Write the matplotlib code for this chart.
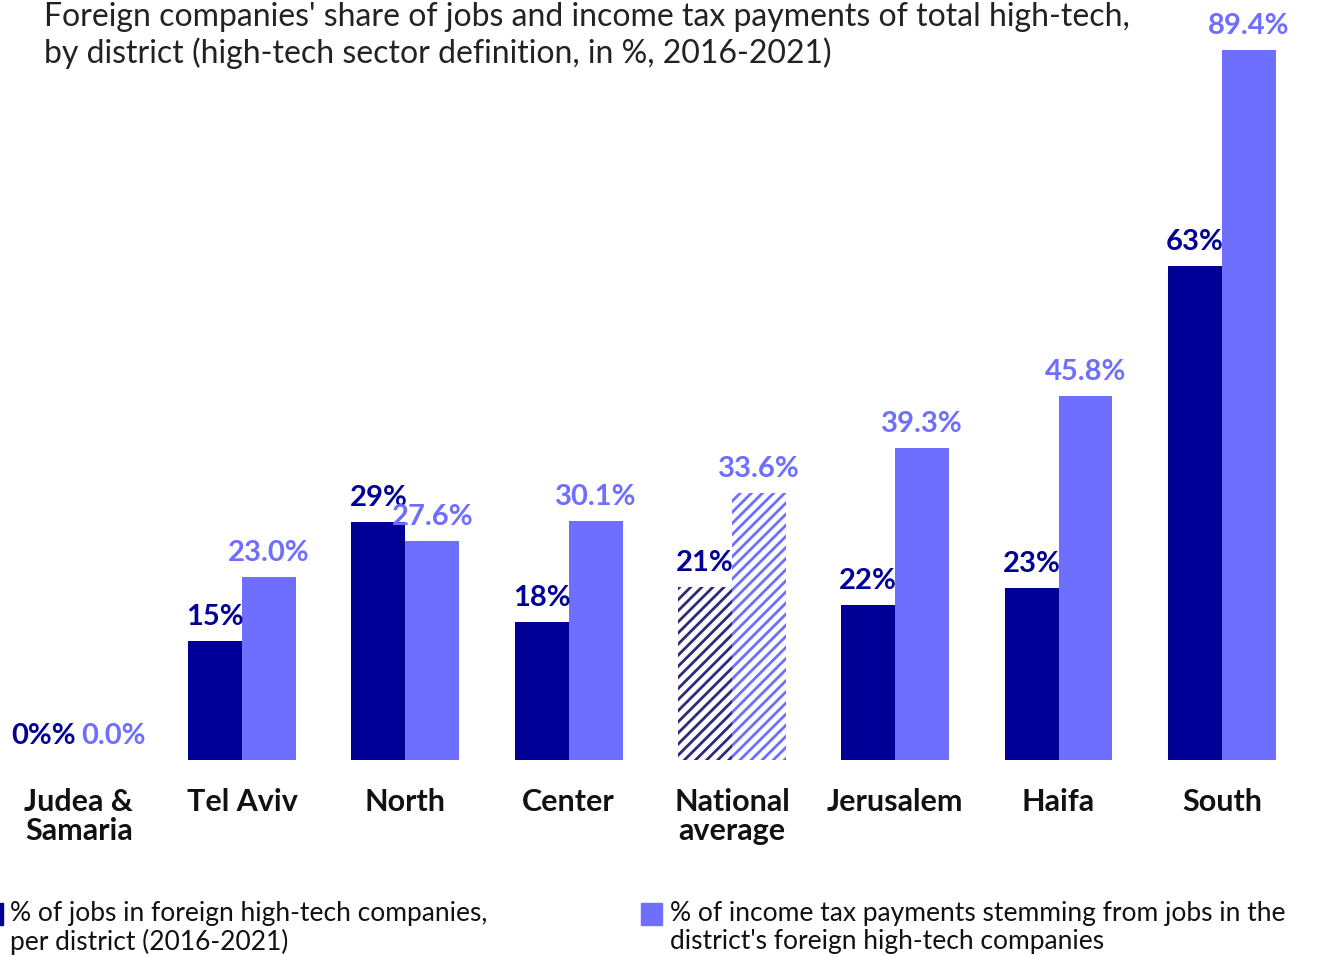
import matplotlib
matplotlib.use("Agg")
import numpy as np
import matplotlib.pyplot as plt
from matplotlib.patches import Rectangle

# data
districts = ["Judea &\nSamaria", "Tel Aviv", "North", "Center", "National\naverage",
             "Jerusalem", "Haifa", "South"]
jobs_share = [0.0, 15.0, 30.0, 17.4, 21.8, 19.5, 21.7, 62.2]
jobs_labels = ["0%%", "15%", "29%", "18%", "21%", "22%", "23%", "63%"]
tax_share = [0.0, 23.0, 27.6, 30.1, 33.6, 39.3, 45.8, 89.4]
tax_labels = ["0.0%", "23.0%", "27.6%", "30.1%", "33.6%", "39.3%", "45.8%", "89.4%"]

dark = "#000096"
light = "#6E6EFF"

plt.rcParams['font.family'] = ['Lato', 'DejaVu Sans']
plt.rcParams['hatch.linewidth'] = 2.0

fig = plt.figure(figsize=(13.18, 9.57), dpi=100)
ax = fig.add_axes([0, 0.2059, 1, 0.7419])

x = np.arange(len(districts))
w = 0.33
avg = districts.index("National\naverage")

for i in x:
    if i == avg:
        ax.bar(i - w, jobs_share[i], w, align='edge', facecolor='white',
               edgecolor="#2B2B7A", hatch="///", linewidth=0)
        ax.bar(i, tax_share[i], w, align='edge', facecolor='white',
               edgecolor=light, hatch="///", linewidth=0)
    else:
        ax.bar(i - w, jobs_share[i], w, align='edge', color=dark, linewidth=0)
        ax.bar(i, tax_share[i], w, align='edge', color=light, linewidth=0)
    # spread the labels apart a little when both bars are empty
    nudge = 6 if jobs_share[i] == 0 and tax_share[i] == 0 else 0
    ax.annotate(jobs_labels[i], (i - w / 2, jobs_share[i]), xytext=(-nudge, 8),
                textcoords='offset points', ha='center', va='bottom',
                color=dark, fontsize=21, fontweight='bold')
    ax.annotate(tax_labels[i], (i + w / 2, tax_share[i]), xytext=(nudge, 8),
                textcoords='offset points', ha='center', va='bottom',
                color=light, fontsize=21, fontweight='bold')

ax.set_xlim(-0.482, 7.589)
ax.set_ylim(0, 89.4)
ax.set_xticks(x)
ax.set_xticklabels(districts, fontsize=22, fontweight='bold', color='#111111',
                   linespacing=1.05)
ax.tick_params(axis='x', length=0, pad=20)
ax.set_yticks([])
for s in ax.spines.values():
    s.set_visible(False)

fig.text(0.0334, 0.998, "Foreign companies' share of jobs and income tax payments of total high-tech,\n"
         "by district (high-tech sector definition, in %, 2016-2021)",
         ha='left', va='top', fontsize=23, color='#222222', linespacing=1.2)

# legend
fig.patches.append(Rectangle((0, 1 - 925 / 957), 3 / 1318, 22 / 957,
                             transform=fig.transFigure, color=dark))
fig.text(10 / 1318, 1 - 901 / 957, "% of jobs in foreign high-tech companies,\nper district (2016-2021)",
         ha='left', va='top', fontsize=19, color='#111111', linespacing=1.15)
fig.patches.append(Rectangle((641 / 1318, 1 - 925 / 957), 21 / 1318, 22 / 957,
                             transform=fig.transFigure, color=light))
fig.text(670 / 1318, 1 - 901 / 957,
         "% of income tax payments stemming from jobs in the\ndistrict's foreign high-tech companies",
         ha='left', va='top', fontsize=19, color='#111111', linespacing=1.15)

fig.savefig("out.png", dpi=100)
